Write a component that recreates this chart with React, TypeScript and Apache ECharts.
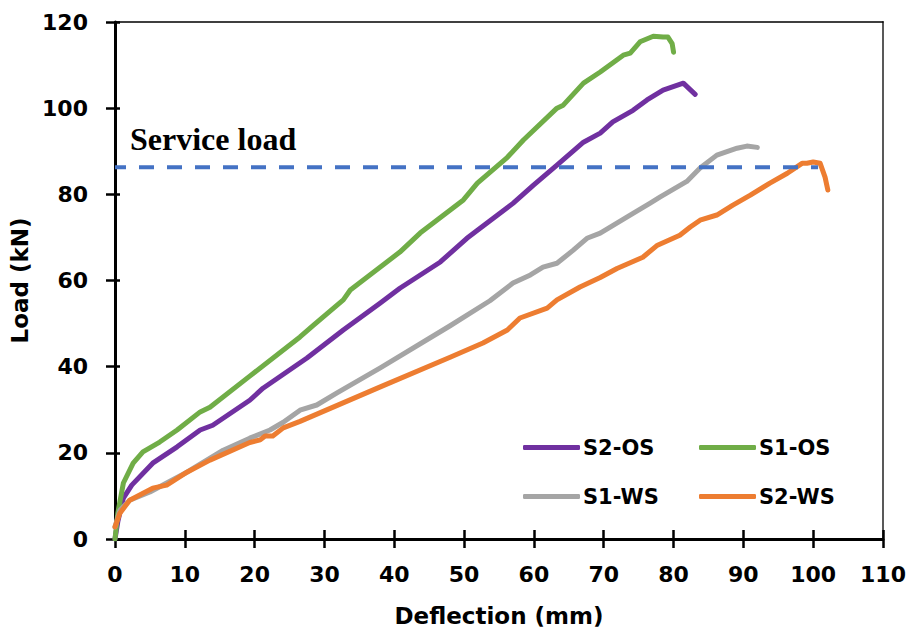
import React, { useEffect, useRef } from "react";
import * as echarts from "echarts";

const xTicks = { min: 0, max: 110, interval: 10 };
const yTicks = { min: 0, max: 120, interval: 20 };

const serviceLoad = 86.3;
const serviceLoadSpan: [number, number] = [0, 100.7];

const s2os: [number, number][] = [
  [0, 0], [0.4, 4], [1.2, 9.5], [2.4, 12.5], [5.4, 17.6], [8.9, 21.4], [12.2, 25.3], [14, 26.4],
  [19.3, 32.2], [21.2, 35], [27.5, 42], [32.7, 48.5], [38, 54.8], [40.8, 58.2], [46.6, 64.3],
  [50.4, 69.8], [57, 77.9], [59.9, 82.1], [63.3, 86.8], [67.1, 92.1], [69.5, 94.2], [71.3, 96.8],
  [74.2, 99.5], [76.2, 101.9], [78.5, 104.2], [81.4, 105.8], [83.1, 103.2],
];

const s1os: [number, number][] = [
  [0, 0], [0.4, 6], [1.2, 13], [2.6, 17.6], [4, 20.2], [6.4, 22.5], [8.9, 25.3], [12.2, 29.5],
  [13.6, 30.6], [19.3, 37.8], [26.5, 46.9], [28.4, 49.6], [32.7, 55.5], [33.7, 57.8], [40.8, 66.6],
  [43.7, 71], [49.9, 78.7], [51.9, 82.6], [56.2, 88.6], [58.5, 92.6], [63.3, 100], [64.2, 100.7],
  [67.1, 105.8], [69.5, 108.4], [72.8, 112.3], [73.8, 112.8], [75.2, 115.4], [77.1, 116.7],
  [78.5, 116.5], [79.2, 116.5], [79.8, 115], [80, 113],
];

const s1ws: [number, number][] = [
  [0, 2.8], [0.7, 6.7], [2.1, 9], [5, 10.9], [7.4, 13], [10.3, 15.5], [15.5, 20.6], [19.3, 23.4],
  [22.2, 25.3], [24.1, 27.1], [26.5, 29.9], [28.9, 31.1], [31.8, 33.9], [38, 39.7], [48, 49.5],
  [53.7, 55.3], [57, 59.4], [59.5, 61.3], [61.3, 63.1], [63.3, 64], [65.6, 67], [67.6, 69.8],
  [69.5, 71], [74.2, 75.6], [76.6, 77.9], [78.1, 79.4], [81.9, 83], [83.8, 86.1], [86.2, 89.1],
  [89.1, 90.7], [90.5, 91.2], [92, 90.9],
];

const s2ws: [number, number][] = [
  [0, 2.8], [0.7, 6], [2.1, 9], [5.4, 11.8], [7.4, 12.5], [10.3, 15.5], [13.6, 18.3], [19.3, 22.4],
  [20.8, 23], [21.5, 23.9], [22.6, 23.9], [24.1, 25.8], [26.5, 27.3], [38, 35.3], [48, 42.2],
  [52.7, 45.5], [56.2, 48.5], [58, 51.3], [61.9, 53.6], [63.3, 55.5], [66.6, 58.5], [69.5, 60.7],
  [71.9, 62.8], [74.2, 64.4], [75.6, 65.4], [77.7, 68.2], [80.9, 70.5], [82.4, 72.4], [83.8, 74],
  [86.2, 75.2], [88.5, 77.5], [91, 79.8], [93.8, 82.6], [96.3, 84.9], [98.4, 87.2], [99.1, 87.2],
  [100, 87.5], [101, 87.2], [101.7, 84], [102.1, 81],
];

const seriesNames = ["S2-OS", "S1-OS", "S1-WS", "S2-WS"];
const seriesColors = ["#7030A0", "#70AD47", "#A5A5A5", "#ED7D31"];
const seriesData = [s2os, s1os, s1ws, s2ws];

const FONT = "DejaVu Sans";

export default function App() {
  const ref = useRef<HTMLDivElement>(null);
  useEffect(() => {
    if (!ref.current) return;
    const chart = echarts.init(ref.current, undefined, { renderer: "svg" });
    const legendPos = [
      { left: 523, top: 437 },
      { left: 699, top: 437 },
      { left: 523, top: 486 },
      { left: 699, top: 486 },
    ];
    const hiddenAxis = {
      axisLabel: { show: false },
      splitLine: { show: false },
    };
    chart.setOption({
      animation: false,
      backgroundColor: "#fff",
      grid: { left: 115, right: 26, top: 22, bottom: 93, containLabel: false, outerBoundsMode: "none" },
      xAxis: [
        {
          type: "value",
          ...xTicks,
          position: "bottom",
          name: "Deflection (mm)",
          nameLocation: "middle",
          nameGap: 65,
          nameTextStyle: { fontFamily: FONT, fontWeight: "bold", fontSize: 23, color: "#000" },
          axisLine: { show: true, onZero: false, lineStyle: { color: "#000", width: 3 } },
          axisTick: { show: true, length: 9, lineStyle: { color: "#000", width: 2.5 } },
          axisLabel: { margin: 24, fontFamily: FONT, fontWeight: "bold", fontSize: 22, color: "#000" },
          splitLine: { show: false },
        },
        {
          type: "value",
          ...xTicks,
          position: "bottom",
          axisLine: { show: false, onZero: false },
          axisTick: { show: true, inside: true, length: 9, lineStyle: { color: "#000", width: 2.5 } },
          ...hiddenAxis,
        },
        {
          type: "value",
          ...xTicks,
          position: "top",
          axisLine: { show: true, onZero: false, lineStyle: { color: "#000", width: 1.5 } },
          axisTick: { show: false },
          ...hiddenAxis,
        },
      ],
      yAxis: [
        {
          type: "value",
          ...yTicks,
          position: "left",
          name: "Load (kN)",
          nameLocation: "middle",
          nameGap: 73,
          nameTextStyle: { fontFamily: FONT, fontWeight: "bold", fontSize: 23, color: "#000" },
          axisLine: { show: true, onZero: false, lineStyle: { color: "#000", width: 3 } },
          axisTick: { show: true, length: 9, lineStyle: { color: "#000", width: 2.5 } },
          axisLabel: { margin: 27, fontFamily: FONT, fontWeight: "bold", fontSize: 22, color: "#000" },
          splitLine: { show: false },
        },
        {
          type: "value",
          ...yTicks,
          position: "left",
          axisLine: { show: false, onZero: false },
          axisTick: { show: true, inside: true, length: 5, lineStyle: { color: "#000", width: 2.5 } },
          ...hiddenAxis,
        },
        {
          type: "value",
          ...yTicks,
          position: "right",
          axisLine: { show: true, onZero: false, lineStyle: { color: "#595959", width: 2 } },
          axisTick: { show: false },
          ...hiddenAxis,
        },
      ],
      legend: seriesNames.map((n, i) => ({
        data: [n],
        left: legendPos[i].left,
        top: legendPos[i].top,
        padding: 0,
        icon: "roundRect",
        itemWidth: 57,
        itemHeight: 5,
        itemGap: 0,
        selectedMode: false,
        textStyle: { fontFamily: FONT, fontWeight: "bold", fontSize: 21, color: "#000", padding: [0, 0, 0, -2] },
      })),
      graphic: [
        {
          type: "text",
          left: 130,
          top: 123,
          style: {
            text: "Service load",
            fontFamily: "Liberation Serif",
            fontWeight: "bold",
            fontSize: 32,
            fill: "#000",
          },
        },
      ],
      series: [
        ...seriesNames.map((n, i) => ({
          name: n,
          type: "line",
          data: seriesData[i],
          showSymbol: false,
          symbol: "none",
          color: seriesColors[i],
          lineStyle: { color: seriesColors[i], width: 5, cap: "round", join: "round" },
          silent: true,
        })),
        {
          name: "Service load",
          type: "line",
          data: serviceLoadSpan.map((x) => [x, serviceLoad]),
          showSymbol: false,
          symbol: "none",
          color: "#4472C4",
          lineStyle: { color: "#4472C4", width: 4, type: [15, 13], dashOffset: 4 },
          silent: true,
          z: 3,
        },
      ],
    });
    return () => chart.dispose();
  }, []);
  return (
    <div
      ref={ref}
      style={{ position: "fixed", left: 0, top: 0, width: 909, height: 632, background: "#fff" }}
    />
  );
}
